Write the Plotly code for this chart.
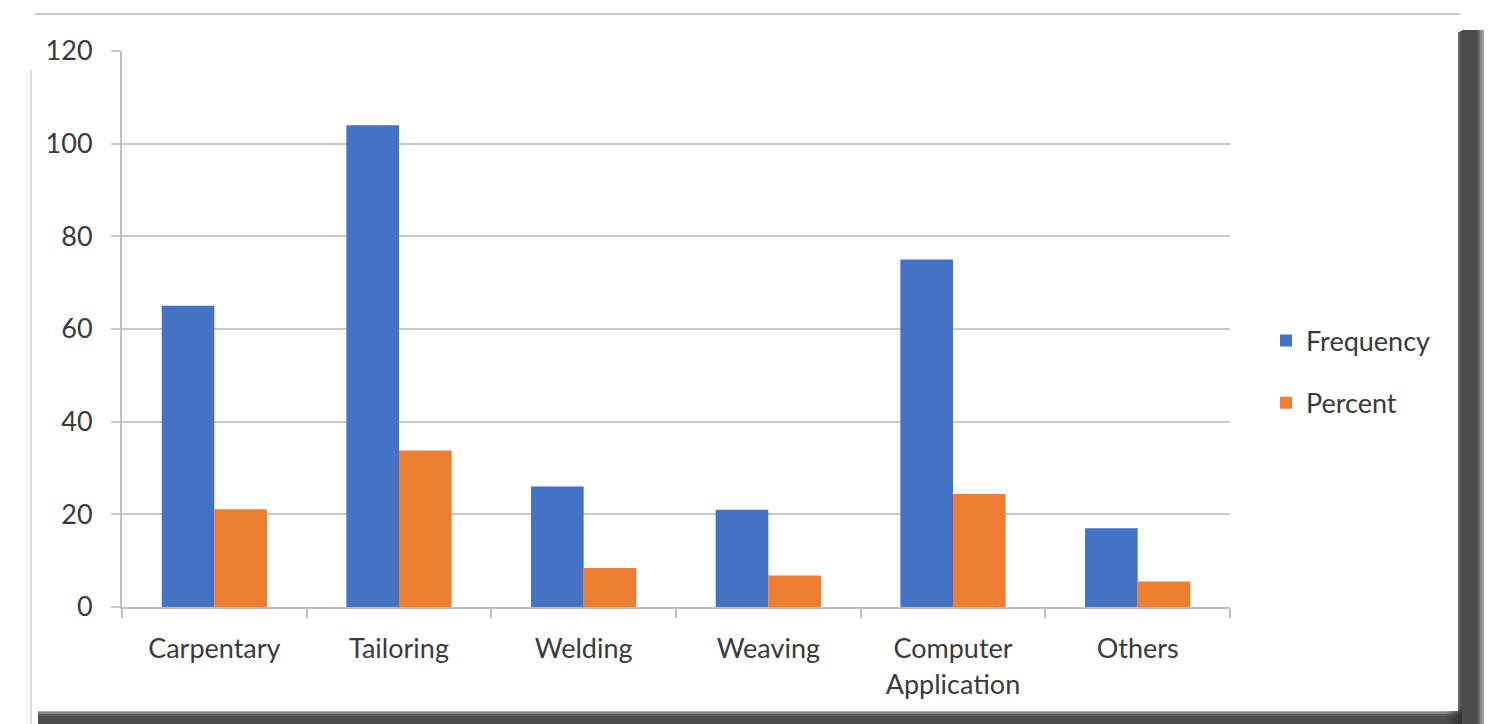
import plotly.graph_objects as go

categories = ["Carpentary", "Tailoring", "Welding", "Weaving", "Computer<br>Application", "Others"]
frequency = [65, 104, 26, 21, 75, 17]
percent = [21.1, 33.8, 8.4, 6.8, 24.4, 5.5]
y_ticks = [0, 20, 40, 60, 80, 100, 120]

OFF = 8  # page body margin
W, H = 1492 - OFF, 724 - OFF
# plot area in screenshot pixels
L, R, T, B = 122, 1230, 51, 607

def px(x):
    return (x - L) / (R - L)

def py(y):
    return (B - y) / (B - T)

FONT = "Lato"
TXT = "#3a3a3a"
FS = 27

fig = go.Figure()
fig.add_trace(go.Bar(x=categories, y=frequency, name="Frequency", marker_color="#4472C4",
                     marker_line_width=0, legendgroup="a"))
fig.add_trace(go.Bar(x=categories, y=percent, name="Percent", marker_color="#ED7D31",
                     marker_line_width=0, legendgroup="b"))

shapes = []
# right shadow as a soft gradient band
def ramp(t):
    if t < 0.35:
        return 0.85 * (t / 0.35)
    if t < 0.7:
        return 0.85
    return 0.85 * (1 - (t - 0.7) / 0.3)

x_start, x_end, step = 1446, 1490, 2
n = (x_end - x_start) // step
for i in range(n):
    a = ramp((i + 0.5) / n)
    shapes.append(dict(type="rect", xref="paper", yref="paper", layer="below",
                       x0=px(x_start + i * step), x1=px(x_start + (i + 1) * step),
                       y0=py(730), y1=py(30 + max(0, 8 - i)),
                       fillcolor=f"rgba(45,45,45,{a:.3f})", line_width=0))
# bottom shadow gradient
y_start, y_end = 706, 726
m = (y_end - y_start) // step
for i in range(m):
    a = 0.85 * min(1, (i + 0.5) / (m * 0.5))
    shapes.append(dict(type="rect", xref="paper", yref="paper", layer="below",
                       x0=px(38), x1=px(1462),
                       y0=py(y_start + (i + 1) * step), y1=py(y_start + i * step),
                       fillcolor=f"rgba(45,45,45,{a:.3f})", line_width=0))
# white card
shapes.append(dict(type="rect", xref="paper", yref="paper", layer="below",
                   x0=px(32), x1=px(1458), y0=py(711), y1=py(14),
                   fillcolor="white", line_width=0))
# top border
shapes.append(dict(type="line", xref="paper", yref="paper", layer="below",
                   x0=px(35), x1=px(1460), y0=py(14), y1=py(14),
                   line=dict(color="#c8c8c8", width=2)))
# left border
shapes.append(dict(type="line", xref="paper", yref="paper", layer="below",
                   x0=px(31), x1=px(31), y0=py(70), y1=py(724),
                   line=dict(color="#d0d0d0", width=1.5)))

fig.update_layout(
    width=W, height=H,
    margin=dict(l=L - OFF, r=(W + OFF) - R, t=T - OFF, b=(H + OFF) - B),
    paper_bgcolor="white", plot_bgcolor="white",
    barmode="group", bargap=0.43, bargroupgap=0,
    font=dict(family=FONT, size=FS, color=TXT),
    shapes=shapes,
    showlegend=True,
    legend=dict(x=px(1266), y=py(372), xanchor="left", yanchor="middle",
                font=dict(family=FONT, size=FS, color=TXT),
                tracegroupgap=24, itemwidth=30, bgcolor="rgba(0,0,0,0)"),
    xaxis=dict(showline=True, linecolor="#bfbfbf", linewidth=2,
               ticks="outside", tickson="boundaries", ticklen=9, tickcolor="#bfbfbf", tickwidth=2,
               ticklabelstandoff=17,
               showgrid=False, tickfont=dict(family=FONT, size=FS, color=TXT)),
    yaxis=dict(range=[0, 120], tickvals=y_ticks, showgrid=True, gridcolor="#c8c8c8", gridwidth=2,
               showline=True, linecolor="#bfbfbf", linewidth=2, zeroline=False,
               ticks="outside", ticklen=9, tickcolor="#c8c8c8", tickwidth=2,
               ticklabelstandoff=13,
               tickfont=dict(family=FONT, size=FS, color=TXT)),
)

fig.write_html("out.html")
